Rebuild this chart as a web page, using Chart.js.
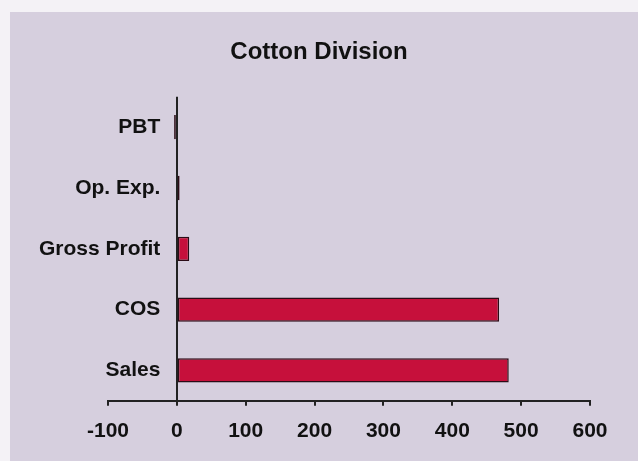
<!DOCTYPE html>
<html>
<head>
<meta charset="utf-8">
<script src="https://cdn.jsdelivr.net/npm/chart.js@4"></script>
<style>
  html, body { margin: 0; padding: 0; background: #fff; }
  #wrap { width: 638px; height: 461px; }
</style>
</head>
<body>
<div id="wrap"><canvas id="myChart" width="638" height="461"></canvas></div>
<script>
const categories = ['PBT', 'Op. Exp.', 'Gross Profit', 'COS', 'Sales'];
const values = [-4, 4, 18, 468, 482];
const xTicks = [-100, 0, 100, 200, 300, 400, 500, 600];

// page-like scan background
const paper = {
    id: 'paper',
    beforeDraw(chart) {
        const c = chart.ctx;
        c.save();
        c.fillStyle = '#f4f2f6';
        c.fillRect(0, 0, chart.width, chart.height);
        c.fillStyle = '#d6cfde';
        c.fillRect(10, 12, chart.width - 10, chart.height - 12);
        c.restore();
    }
};

const ctx = document.getElementById('myChart');
new Chart(ctx, {
    type: 'bar',
    data: {
        labels: categories,
        datasets: [{
            label: 'Cotton Division',
            data: values,
            backgroundColor: '#c6103b',
            borderColor: '#2b0c16',
            borderWidth: 1.5,
            borderSkipped: false,
            categoryPercentage: 1,
            barPercentage: 0.4
        }]
    },
    options: {
        indexAxis: 'y',
        responsive: false,
        animation: false,
        layout: {
            padding: { left: 0, right: 0, top: 0, bottom: 4 }
        },
        scales: {
            x: {
                type: 'linear',
                position: 'bottom',
                min: xTicks[0],
                max: xTicks[xTicks.length - 1],
                afterBuildTicks: (s) => { s.ticks = xTicks.map(v => ({ value: v })); },
                // keep the plot inset without shifting the title
                afterFit: (s) => { s.paddingLeft = 108; s.paddingRight = 48; },
                grid: {
                    drawOnChartArea: true,
                    // only the zero line is drawn inside the plot: it is the vertical axis
                    color: (c) => (c.tick && c.tick.value === 0 ? '#222' : 'rgba(0,0,0,0)'),
                    lineWidth: 2,
                    tickLength: 5,
                    tickWidth: 2,
                    tickColor: '#222'
                },
                border: { display: true, color: '#222', width: 2 },
                ticks: {
                    color: '#111',
                    padding: 13,
                    font: { family: 'Liberation Sans', size: 21, weight: 'bold' }
                }
            },
            y: {
                type: 'category',
                position: { x: -24 },
                grid: { display: false },
                border: { display: false },
                ticks: {
                    color: '#111',
                    font: { family: 'Liberation Sans', size: 21, weight: 'bold' }
                }
            }
        },
        plugins: {
            legend: { display: false },
            tooltip: { enabled: false },
            title: {
                display: true,
                text: 'Cotton Division',
                color: '#111',
                font: { family: 'Liberation Sans', size: 24, weight: 'bold' },
                padding: { top: 38, bottom: 30 }
            }
        }
    },
    plugins: [paper]
});
</script>
</body>
</html>
